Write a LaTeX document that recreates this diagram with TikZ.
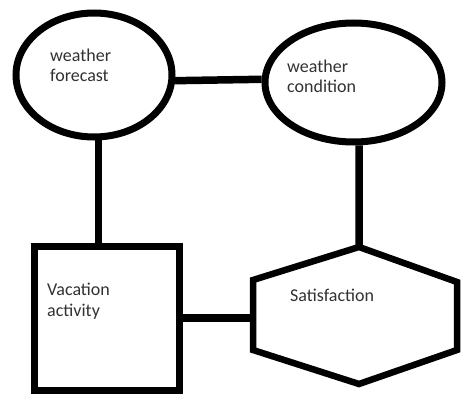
\documentclass[tikz,border=0pt]{standalone}
\usepackage{fontspec}
\setmainfont{Carlito}
\usetikzlibrary{shapes.geometric}
\definecolor{txtgray}{RGB}{50,50,50}
\begin{document}
\begin{tikzpicture}[x=1pt,y=-1pt,
  bubble/.style={draw,ellipse,line width=7pt,inner sep=0},
  link/.style={line width=7.5pt},
  lbl/.style={anchor=base west,align=left,inner sep=0,text=txtgray,font=\fontsize{18}{20.5}\selectfont}]
\useasboundingbox[fill=white] (0,0) rectangle (461,396);
% the two ellipses
\node[bubble,minimum width=156,minimum height=124] (fc) at (94,75) {};
\node[bubble,minimum width=177,minimum height=119] (wc) at (353.5,82.5) {};
% box and hexagon
\node[draw,line width=7pt,minimum width=145,minimum height=144] (va) at (106.5,318) {};
\draw[line width=6.5pt] (359,247) coordinate (sfTop) -- (457,282) -- (457,350) -- (359,384) -- (253,350) -- (253,280) -- cycle;
\coordinate (sfLeft) at (253,318);

\node[lbl] (fcText) at (50,82) {weather\\forecast};
\node[lbl] (wcText) at (287,93) {weather\\condition};
\node[lbl] (vaText) at (47,316) {Vacation\\activity};
\node[lbl] (sfText) at (290,301) {Satisfaction};

\draw[link] (fc.-4) -- (wc.178);
\draw[link] (fc.-86) -- (fc.-86 |- va.north);
\draw[link] (wc.-85) -- (sfTop);
\draw[link] (va.east) -- (sfLeft);
\end{tikzpicture}
\end{document}
